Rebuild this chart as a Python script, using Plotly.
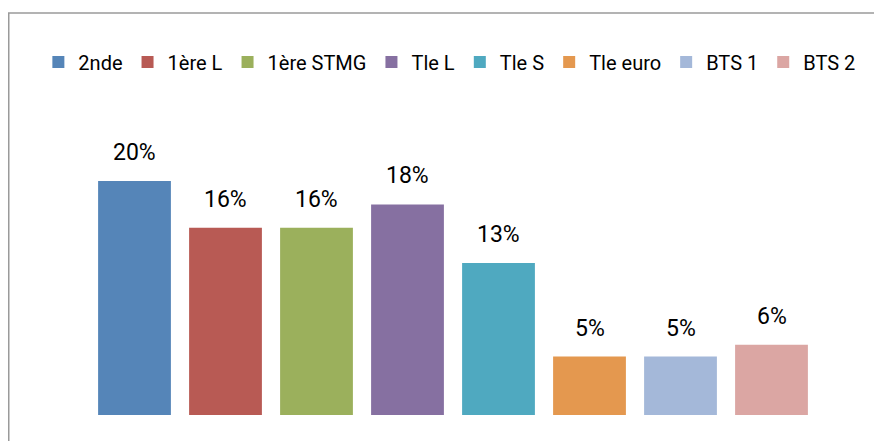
import plotly.graph_objects as go

categories = ["2nde", "1ère L", "1ère STMG", "Tle L", "Tle S", "Tle euro", "BTS 1", "BTS 2"]
values = [20, 16, 16, 18, 13, 5, 5, 6]
labels = ["20%", "16%", "16%", "18%", "13%", "5%", "5%", "6%"]
colors = ["#5585B8", "#B85A54", "#9BB05C", "#8670A1", "#4FA9C0", "#E4984F", "#A4B8D9", "#DBA6A3"]

FONT = "Roboto"
W, H = 874, 433  # page body has an 8px margin
fig = go.Figure()
for c, v, col in zip(categories, values, colors):
    fig.add_trace(go.Bar(x=[c], y=[v], name=c, marker=dict(color=col, line=dict(width=0)),
                         width=0.8, hoverinfo="skip"))

for c, v, lab in zip(categories, values, labels):
    fig.add_annotation(x=c, y=v, text=lab, showarrow=False, yanchor="bottom", yshift=13,
                       font=dict(family=FONT, size=23, color="#000000"))

# outer border (chart area frame)
fig.add_shape(type="rect", xref="paper", yref="paper",
              x0=0.75 / W, x1=1.1, y0=-0.3, y1=(407 - 5) / 315,
              line=dict(color="#9a9a9a", width=1.5), fillcolor="rgba(0,0,0,0)", layer="below")

fig.update_layout(
    width=W, height=H,
    margin=dict(l=0, r=0, t=92, b=26),
    paper_bgcolor="white", plot_bgcolor="white",
    barmode="overlay",
    showlegend=True,
    legend=dict(orientation="h", xref="container", yref="container",
                x=0.505, xanchor="center", y=1 - 54 / H, yanchor="middle",
                font=dict(family=FONT, size=20, color="#000000"), itemwidth=30,
                traceorder="normal", bgcolor="rgba(0,0,0,0)"),
    xaxis=dict(visible=False, domain=[81 / W, 809 / W], range=[-0.5, 7.5],
               categoryorder="array", categoryarray=categories),
    yaxis=dict(visible=False, range=[0, 315 / 11.7]),
    font=dict(family=FONT),
)

fig.write_html("out.html")
